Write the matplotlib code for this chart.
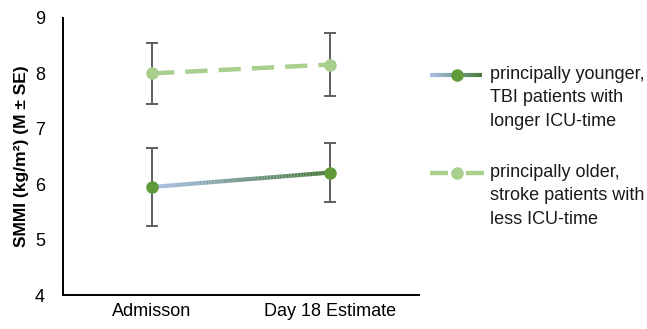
import numpy as np
import matplotlib
matplotlib.use("Agg")
import matplotlib.pyplot as plt
from matplotlib.collections import LineCollection
from matplotlib.colors import to_rgb
from matplotlib.lines import Line2D

plt.rcParams['font.family'] = ['Liberation Sans', 'DejaVu Sans']

# data
timepoints = ['Admisson', 'Day 18 Estimate']
younger_mean = [5.95, 6.21]
younger_se = [0.71, 0.54]
older_mean = [8.00, 8.16]
older_se = [0.55, 0.57]
labels = ['principally younger,\nTBI patients with\nlonger ICU-time',
          'principally older,\nstroke patients with\nless ICU-time']

blue_light = '#a9c0e8'
green_dark = '#4a7a3c'
green_mid = '#5f9b3b'
green_light = '#a8cf8c'
err_grey = '#5f5f5f'


def gradient_segments(x0, y0, x1, y1, n=60):
    t = np.linspace(0, 1, n + 1)
    xs = x0 + (x1 - x0) * t
    ys = y0 + (y1 - y0) * t
    pts = np.column_stack([xs, ys]).reshape(-1, 1, 2)
    segs = np.concatenate([pts[:-1], pts[1:]], axis=1)
    c0, c1 = np.array(to_rgb(blue_light)), np.array(to_rgb(green_dark))
    tc = (t[:-1] + t[1:]) / 2
    cols = c0 + (c1 - c0) * tc[:, None]
    return segs, cols


fig = plt.figure(figsize=(6.47, 3.29), dpi=100)
ax = fig.add_axes([63 / 647, 34 / 329, 356 / 647, 277 / 329])

x = np.arange(len(timepoints))

# error bars
ax.errorbar(x, younger_mean, yerr=younger_se, fmt='none', ecolor=err_grey,
            elinewidth=1.4, capsize=4, capthick=1.4, zorder=2)
ax.errorbar(x, older_mean, yerr=older_se, fmt='none', ecolor=err_grey,
            elinewidth=1.4, capsize=4, capthick=1.4, zorder=2)

# younger group: gradient line
segs, cols = gradient_segments(x[0], younger_mean[0], x[1], younger_mean[1])
ax.add_collection(LineCollection(segs, colors=cols, linewidths=3, capstyle='butt', zorder=3))
ax.plot(x, younger_mean, linestyle='none', marker='o', markersize=8,
        color=green_mid, zorder=4)

# older group: dashed line
ax.plot(x, older_mean, linestyle=(0, (5, 2.5)), linewidth=3.2, color=green_light,
        marker='o', markersize=8, zorder=3, dash_capstyle='butt')

ax.set_xlim(-0.5, 1.5)
ax.set_ylim(4, 9)
ax.set_yticks(range(4, 10))
ax.set_xticks(x)
ax.set_xticklabels(timepoints)
ax.tick_params(length=0, labelsize=13)
ax.tick_params(axis='y', pad=13)
ax.tick_params(axis='x', pad=6)
for side in ['top', 'right']:
    ax.spines[side].set_visible(False)
for side in ['left', 'bottom']:
    ax.spines[side].set_linewidth(1.4)
    ax.spines[side].set_color('black')
ax.set_ylabel('SMMI (kg/m²) (M ± SE)', fontsize=12.5, fontweight='bold', labelpad=4)

# manual legend
W, H = 647, 329
for i, (lab, ycen) in enumerate(zip(labels, [75, 173])):
    yf = 1 - ycen / H
    if i == 0:
        t = np.linspace(430, 482, 30)
        c0, c1 = np.array(to_rgb(blue_light)), np.array(to_rgb(green_dark))
        for j in range(len(t) - 1):
            f = (j + 0.5) / (len(t) - 1)
            fig.add_artist(Line2D([t[j] / W, t[j + 1] / W], [yf, yf], lw=3,
                                  color=c0 + (c1 - c0) * f, solid_capstyle='butt'))
        fig.add_artist(Line2D([457 / W], [yf], marker='o', markersize=8,
                              color=green_mid, linestyle='none'))
    else:
        fig.add_artist(Line2D([430 / W, 448 / W], [yf, yf], lw=3.2, color=green_light,
                              solid_capstyle='butt'))
        fig.add_artist(Line2D([466 / W, 484 / W], [yf, yf], lw=3.2, color=green_light,
                              solid_capstyle='butt'))
        fig.add_artist(Line2D([457 / W], [yf], marker='o', markersize=8,
                              color=green_light, linestyle='none'))
    fig.text(490 / W, 1 - (ycen - 9) / H, lab, fontsize=13, va='top', ha='left',
             linespacing=1.5, color='#1a1a1a')

fig.savefig('out.png', dpi=100)
